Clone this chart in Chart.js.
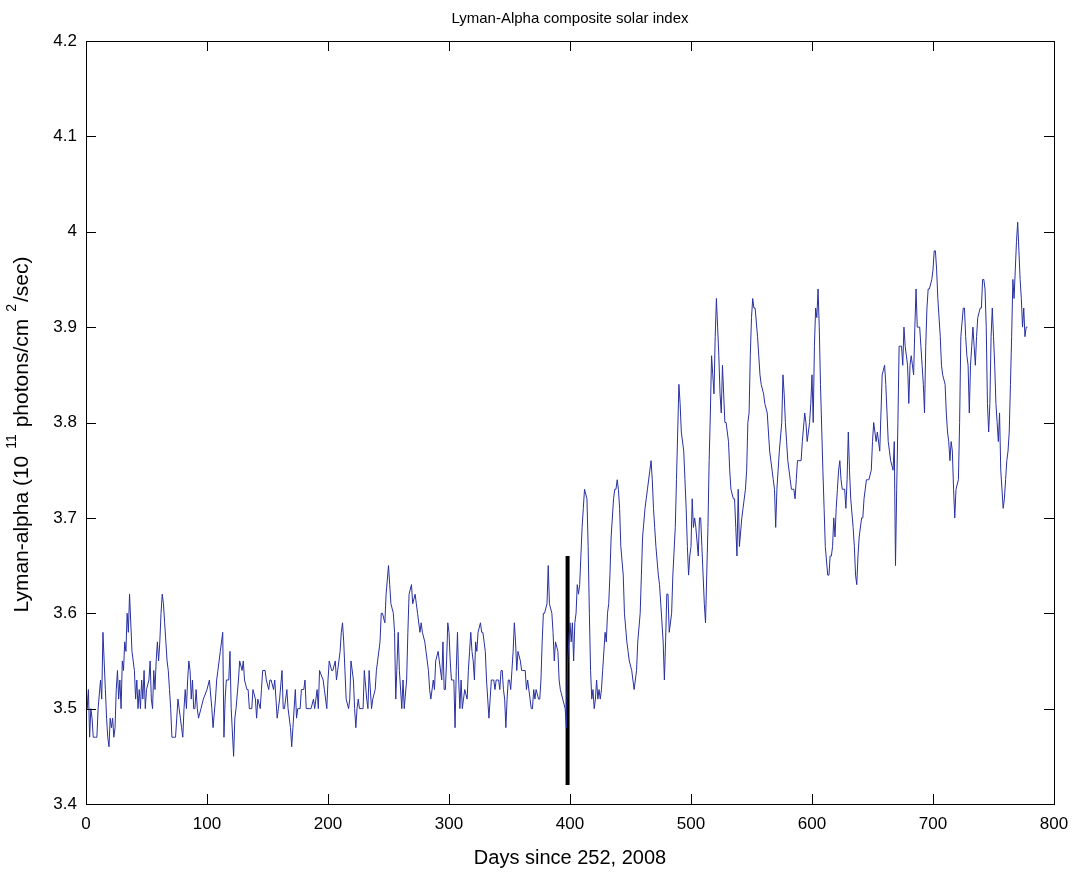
<!DOCTYPE html>
<html>
<head>
<meta charset="utf-8">
<title>Lyman-Alpha composite solar index</title>
<script src="https://cdn.jsdelivr.net/npm/chart.js@4.4.1/dist/chart.umd.min.js"></script>
<style>
  html, body { margin: 0; padding: 0; background: #fff; }
  canvas { display: block; }
</style>
</head>
<body>
<canvas id="myChart" width="1079" height="873"></canvas>
<script>
// values, one pair of arrays per stretch of about 100 days

const days000 = [0, 1, 2, 3, 4, 5, 6, 8, 9, 10,
  12, 13, 14, 15, 16, 17, 18, 19, 20, 21,
  22, 23, 24, 25, 26, 27, 28, 29, 30, 31,
  32, 33, 34, 35, 36, 37, 38, 39, 40, 41,
  42, 43, 44, 45, 46, 47, 48, 49, 50, 52,
  53, 54, 55, 56, 57, 58, 59, 60, 61, 62,
  63, 64, 65, 66, 67, 68, 69, 70, 71, 72,
  73, 74, 75, 76, 77, 78, 79, 80, 81, 82,
  83, 84, 85, 86, 87, 88, 89, 90, 91, 92,
  93];
const lyman000 = [3.53, 3.50, 3.52, 3.47, 3.50, 3.49, 3.47, 3.47, 3.47, 3.50,
  3.53, 3.51, 3.58, 3.55, 3.52, 3.49, 3.47, 3.46, 3.49, 3.48,
  3.49, 3.47, 3.48, 3.52, 3.54, 3.51, 3.53, 3.50, 3.55, 3.54,
  3.57, 3.56, 3.60, 3.58, 3.62, 3.59, 3.56, 3.55, 3.54, 3.51,
  3.53, 3.50, 3.52, 3.50, 3.53, 3.51, 3.54, 3.50, 3.52, 3.53,
  3.55, 3.51, 3.50, 3.54, 3.52, 3.55, 3.57, 3.55, 3.57, 3.60,
  3.62, 3.61, 3.59, 3.57, 3.55, 3.54, 3.52, 3.50, 3.47, 3.47,
  3.47, 3.47, 3.49, 3.51, 3.50, 3.49, 3.48, 3.47, 3.50, 3.52,
  3.50, 3.53, 3.55, 3.54, 3.51, 3.53, 3.50, 3.50, 3.52, 3.50,
  3.49];

const days100 = [95, 97, 100, 102, 104, 105, 107, 108, 109, 111,
  113, 114, 115, 116, 118, 119, 120, 122, 123, 124,
  126, 127, 129, 130, 131, 133, 134, 135, 137, 138,
  140, 141, 142, 144, 145, 146, 148, 149, 151, 152,
  153, 155, 156, 158, 159, 160, 162, 163, 164, 166,
  167, 169, 170, 171, 173, 174, 175, 177, 178, 180,
  181, 182, 185, 186, 188, 189, 191, 192, 193, 196,
  197];
const lyman100 = [3.50, 3.51, 3.52, 3.53, 3.50, 3.48, 3.51, 3.53, 3.54, 3.56,
  3.58, 3.47, 3.51, 3.53, 3.53, 3.56, 3.50, 3.45, 3.49, 3.50,
  3.53, 3.55, 3.54, 3.55, 3.53, 3.52, 3.52, 3.50, 3.50, 3.52,
  3.51, 3.49, 3.51, 3.50, 3.52, 3.54, 3.54, 3.53, 3.52, 3.53,
  3.53, 3.52, 3.53, 3.49, 3.50, 3.51, 3.54, 3.50, 3.50, 3.52,
  3.50, 3.48, 3.46, 3.48, 3.52, 3.49, 3.50, 3.50, 3.52, 3.52,
  3.53, 3.50, 3.50, 3.50, 3.51, 3.50, 3.52, 3.50, 3.54, 3.53,
  3.52];

const days200 = [199, 200, 201, 203, 204, 206, 207, 208, 210, 211,
  212, 213, 214, 215, 217, 218, 219, 221, 222, 223,
  224, 225, 226, 228, 229, 230, 232, 233, 234, 236,
  237, 239, 240, 241, 243, 244, 245, 247, 248, 250,
  251, 252, 254, 255, 256, 258, 259, 261, 262, 263,
  265, 266, 267, 269, 270, 272, 273, 274, 276, 277,
  278, 280, 281, 283, 284, 285, 287, 288, 289, 291,
  292, 294, 295];
const lyman200 = [3.50, 3.53, 3.55, 3.54, 3.54, 3.55, 3.53, 3.54, 3.56, 3.58,
  3.59, 3.57, 3.54, 3.51, 3.50, 3.51, 3.55, 3.53, 3.50, 3.48,
  3.50, 3.51, 3.50, 3.50, 3.50, 3.54, 3.51, 3.50, 3.54, 3.50,
  3.51, 3.52, 3.54, 3.55, 3.57, 3.60, 3.60, 3.59, 3.62, 3.65,
  3.63, 3.61, 3.60, 3.58, 3.51, 3.58, 3.54, 3.50, 3.53, 3.50,
  3.53, 3.58, 3.62, 3.63, 3.61, 3.62, 3.61, 3.60, 3.58, 3.59,
  3.58, 3.57, 3.56, 3.54, 3.52, 3.51, 3.53, 3.52, 3.55, 3.56,
  3.55, 3.53, 3.57];

const days300 = [296, 297, 298, 299, 300, 301, 302, 304, 305, 306,
  307, 308, 309, 310, 311, 312, 313, 315, 316, 317,
  318, 319, 320, 321, 322, 323, 324, 326, 327, 328,
  330, 331, 332, 333, 334, 335, 337, 338, 339, 341,
  342, 343, 344, 345, 346, 347, 348, 349, 350, 351,
  352, 353, 354, 355, 356, 357, 359, 360, 361, 363,
  364, 365, 367, 368, 369, 370, 371, 372, 374, 375,
  376, 377, 378, 379, 381, 382, 383, 385, 386, 387,
  388, 390, 391];
const lyman300 = [3.52, 3.52, 3.55, 3.59, 3.58, 3.55, 3.53, 3.53, 3.48, 3.54,
  3.58, 3.53, 3.50, 3.53, 3.50, 3.51, 3.52, 3.51, 3.54, 3.56,
  3.58, 3.56, 3.55, 3.53, 3.57, 3.56, 3.58, 3.59, 3.58, 3.58,
  3.56, 3.53, 3.51, 3.49, 3.51, 3.53, 3.53, 3.52, 3.53, 3.53,
  3.52, 3.54, 3.54, 3.52, 3.51, 3.48, 3.51, 3.53, 3.53, 3.52,
  3.54, 3.56, 3.59, 3.57, 3.54, 3.56, 3.55, 3.54, 3.54, 3.54,
  3.52, 3.53, 3.51, 3.50, 3.50, 3.52, 3.51, 3.52, 3.51, 3.51,
  3.53, 3.57, 3.60, 3.60, 3.61, 3.65, 3.61, 3.60, 3.58, 3.55,
  3.57, 3.56, 3.53];

const days400 = [392, 394, 396, 397, 398, 400, 401, 402, 403, 404,
  405, 406, 407, 408, 409, 410, 411, 412, 414, 415,
  416, 417, 418, 419, 420, 421, 422, 423, 424, 425,
  426, 427, 429, 430, 431, 432, 433, 434, 436, 437,
  438, 439, 440, 441, 442, 444, 445, 447, 448, 449,
  451, 452, 453, 455, 456, 458, 459, 460, 462, 463,
  464, 466, 467, 468, 469, 470, 471, 473, 474, 475,
  477, 478, 479, 480, 481, 482, 484, 485, 487, 488,
  489];
const lyman400 = [3.52, 3.51, 3.50, 3.48, 3.55, 3.59, 3.57, 3.59, 3.55, 3.59,
  3.60, 3.63, 3.62, 3.63, 3.66, 3.69, 3.71, 3.73, 3.72, 3.67,
  3.60, 3.54, 3.51, 3.52, 3.50, 3.51, 3.53, 3.51, 3.52, 3.51,
  3.52, 3.54, 3.58, 3.57, 3.60, 3.61, 3.64, 3.68, 3.72, 3.73,
  3.73, 3.74, 3.73, 3.71, 3.67, 3.64, 3.60, 3.57, 3.56, 3.55,
  3.54, 3.53, 3.52, 3.54, 3.57, 3.60, 3.64, 3.68, 3.71, 3.72,
  3.73, 3.75, 3.76, 3.74, 3.71, 3.69, 3.67, 3.64, 3.63, 3.61,
  3.57, 3.53, 3.57, 3.62, 3.62, 3.58, 3.60, 3.64, 3.69, 3.74,
  3.79];

const days500 = [490, 491, 492, 494, 495, 496, 497, 498, 499, 500,
  501, 502, 503, 504, 506, 507, 508, 509, 510, 511,
  512, 513, 514, 515, 516, 517, 518, 519, 520, 521,
  522, 523, 524, 525, 526, 527, 528, 529, 531, 532,
  533, 535, 536, 537, 538, 539, 540, 542, 543, 545,
  546, 547, 548, 549, 550, 551, 552, 553, 555, 556,
  557, 558, 560, 561, 563, 564, 565, 567, 568, 569,
  570, 571, 572, 573, 575, 576, 577, 578, 579, 580,
  582, 583, 585, 586];
const lyman500 = [3.84, 3.82, 3.79, 3.77, 3.74, 3.71, 3.67, 3.64, 3.66, 3.67,
  3.72, 3.69, 3.70, 3.69, 3.66, 3.70, 3.70, 3.67, 3.64, 3.61,
  3.59, 3.64, 3.69, 3.76, 3.81, 3.87, 3.85, 3.83, 3.89, 3.93,
  3.90, 3.87, 3.83, 3.81, 3.86, 3.83, 3.80, 3.80, 3.78, 3.75,
  3.73, 3.72, 3.72, 3.69, 3.66, 3.73, 3.67, 3.70, 3.71, 3.73,
  3.75, 3.80, 3.81, 3.87, 3.91, 3.93, 3.92, 3.92, 3.89, 3.87,
  3.85, 3.84, 3.83, 3.82, 3.81, 3.79, 3.77, 3.75, 3.74, 3.73,
  3.69, 3.73, 3.75, 3.77, 3.80, 3.85, 3.83, 3.80, 3.78, 3.76,
  3.74, 3.73, 3.73, 3.72];

const days600 = [587, 588, 590, 591, 592, 594, 595, 596, 598, 599,
  600, 601, 602, 603, 604, 605, 606, 607, 609, 610,
  611, 613, 614, 615, 616, 617, 618, 619, 620, 621,
  622, 623, 624, 625, 627, 628, 629, 630, 631, 632,
  634, 635, 636, 637, 638, 639, 641, 642, 643, 645,
  646, 647, 649, 650, 651, 652, 653, 654, 656, 657,
  658, 660, 661, 662, 663, 664, 665, 667, 668, 669,
  670, 671, 672, 674, 675, 676];
const lyman600 = [3.74, 3.76, 3.76, 3.76, 3.78, 3.81, 3.80, 3.78, 3.80, 3.82,
  3.85, 3.80, 3.88, 3.92, 3.91, 3.94, 3.90, 3.84, 3.75, 3.71,
  3.67, 3.64, 3.64, 3.66, 3.66, 3.67, 3.70, 3.68, 3.71, 3.73,
  3.75, 3.76, 3.74, 3.73, 3.73, 3.71, 3.74, 3.79, 3.75, 3.72,
  3.69, 3.67, 3.64, 3.63, 3.66, 3.68, 3.70, 3.70, 3.72, 3.74,
  3.74, 3.74, 3.75, 3.78, 3.80, 3.79, 3.78, 3.79, 3.77, 3.81,
  3.85, 3.86, 3.84, 3.81, 3.78, 3.77, 3.76, 3.75, 3.78, 3.65,
  3.73, 3.80, 3.88, 3.88, 3.86, 3.90];

const days700 = [677, 679, 680, 681, 682, 684, 685, 686, 687, 689,
  690, 691, 692, 693, 694, 695, 696, 697, 699, 700,
  701, 702, 703, 704, 706, 707, 708, 710, 711, 712,
  713, 714, 715, 716, 717, 718, 719, 721, 722, 723,
  725, 726, 727, 728, 729, 730, 731, 732, 733, 734,
  735, 736, 737, 739, 740, 741, 742, 743, 744, 745,
  746, 747, 748, 749, 750, 751, 752, 753, 754, 755,
  756, 757, 758, 759, 760, 761, 762, 763, 764, 765,
  766, 767, 768, 769, 770, 771, 772, 773, 774, 775,
  776, 777, 778];
const lyman700 = [3.88, 3.86, 3.82, 3.86, 3.87, 3.85, 3.90, 3.94, 3.90, 3.90,
  3.88, 3.86, 3.84, 3.81, 3.88, 3.92, 3.94, 3.94, 3.95, 3.96,
  3.98, 3.98, 3.96, 3.93, 3.89, 3.86, 3.85, 3.84, 3.81, 3.79,
  3.78, 3.76, 3.78, 3.77, 3.73, 3.70, 3.73, 3.74, 3.80, 3.89,
  3.92, 3.92, 3.89, 3.87, 3.86, 3.81, 3.86, 3.88, 3.90, 3.88,
  3.86, 3.89, 3.91, 3.92, 3.92, 3.95, 3.95, 3.94, 3.90, 3.82,
  3.79, 3.82, 3.89, 3.92, 3.89, 3.86, 3.82, 3.80, 3.78, 3.81,
  3.75, 3.73, 3.71, 3.72, 3.74, 3.76, 3.77, 3.79, 3.84, 3.89,
  3.95, 3.93, 3.96, 3.99, 4.01, 3.98, 3.95, 3.93, 3.90, 3.92,
  3.89, 3.90, 3.90];

// black vertical marker
const markerDay = 398;
const markerRange = [3.42, 3.66];

// axes
const xTicks = [0, 100, 200, 300, 400, 500, 600, 700, 800];
const yTicks = [3.4, 3.5, 3.6, 3.7, 3.8, 3.9, 4.0, 4.1, 4.2];

const days = [].concat(days000, days100, days200, days300, days400, days500, days600, days700);
const lymanAlpha = [].concat(lyman000, lyman100, lyman200, lyman300, lyman400, lyman500, lyman600, lyman700);
if (days.length !== lymanAlpha.length) {
  console.warn('length mismatch', days.length, lymanAlpha.length);
}

const FONT = '"Liberation Sans", Arial, Helvetica, sans-serif';
const TICK_LEN = 10;

// box, inward ticks on all four sides, title and axis labels
const matlabAxes = {
  id: 'matlabAxes',
  afterDraw(chart) {
    const ctx = chart.ctx;
    const a = chart.chartArea;
    const xs = chart.scales.x;
    const ys = chart.scales.y;
    ctx.save();
    ctx.strokeStyle = '#000';
    ctx.lineWidth = 1;
    ctx.strokeRect(Math.round(a.left) + 0.5, Math.round(a.top) + 0.5,
      Math.round(a.right - a.left), Math.round(a.bottom - a.top));
    ctx.beginPath();
    xTicks.forEach(v => {
      const px = Math.round(xs.getPixelForValue(v)) + 0.5;
      ctx.moveTo(px, a.bottom);
      ctx.lineTo(px, a.bottom - TICK_LEN);
      ctx.moveTo(px, a.top);
      ctx.lineTo(px, a.top + TICK_LEN);
    });
    yTicks.forEach(v => {
      const py = Math.round(ys.getPixelForValue(v)) + 0.5;
      ctx.moveTo(a.left, py);
      ctx.lineTo(a.left + TICK_LEN, py);
      ctx.moveTo(a.right, py);
      ctx.lineTo(a.right - TICK_LEN, py);
    });
    ctx.stroke();

    const midX = (a.left + a.right) / 2;
    const midY = (a.top + a.bottom) / 2;
    ctx.fillStyle = '#000';
    ctx.textAlign = 'center';
    ctx.textBaseline = 'middle';
    ctx.font = '15px ' + FONT;
    ctx.fillText('Lyman-Alpha composite solar index', midX, 19);
    ctx.font = '20px ' + FONT;
    ctx.fillText('Days since 252, 2008', midX, 858);

    // y label with superscripts, rotated
    const base = '21px ' + FONT;
    const sup = '14px ' + FONT;
    const parts = [
      { t: 'Lyman-alpha (10', f: base, dy: 0, gap: 0 },
      { t: '11', f: sup, dy: -10, gap: 7 },
      { t: ' photons/cm', f: base, dy: 0, gap: 1 },
      { t: '2', f: sup, dy: -10, gap: 7 },
      { t: '/sec)', f: base, dy: 0, gap: 2 }
    ];
    let total = 0;
    parts.forEach(p => { ctx.font = p.f; p.w = ctx.measureText(p.t).width; total += p.gap + p.w; });
    ctx.translate(22, midY + 12);
    ctx.rotate(-Math.PI / 2);
    ctx.textAlign = 'left';
    let cx = -total / 2;
    parts.forEach(p => {
      cx += p.gap;
      ctx.font = p.f;
      ctx.fillText(p.t, cx, p.dy);
      cx += p.w;
    });
    ctx.restore();
  }
};

const ctx = document.getElementById('myChart').getContext('2d');
const myChart = new Chart(ctx, {
  type: 'line',
  data: {
    labels: days,
    datasets: [
      {
        label: 'Lyman-alpha',
        data: lymanAlpha,
        borderColor: 'rgb(40, 48, 160)',
        borderWidth: 1,
        pointRadius: 0,
        tension: 0
      },
      {
        label: 'marker',
        data: [{ x: markerDay, y: markerRange[0] }, { x: markerDay, y: markerRange[1] }],
        borderColor: '#000',
        borderWidth: 4,
        pointRadius: 0
      }
    ]
  },
  options: {
    responsive: false,
    animation: false,
    devicePixelRatio: 1,
    layout: { padding: { top: 41, right: 25, left: 0, bottom: 0 } },
    plugins: {
      legend: { display: false },
      tooltip: { enabled: false },
      title: { display: false }
    },
    scales: {
      x: {
        type: 'linear',
        min: 0,
        max: 800,
        grid: { display: false, drawTicks: false },
        border: { display: false },
        ticks: {
          stepSize: 100,
          padding: 10,
          maxRotation: 0,
          color: '#000',
          font: { family: FONT, size: 17 }
        },
        afterFit(scale) { scale.height = 69; }
      },
      y: {
        type: 'linear',
        min: 3.4,
        max: 4.2,
        grid: { display: false, drawTicks: false },
        border: { display: false },
        ticks: {
          stepSize: 0.1,
          padding: 9,
          color: '#000',
          font: { family: FONT, size: 17 },
          callback: v => String(parseFloat(v.toFixed(1)))
        },
        afterFit(scale) { scale.width = 86; }
      }
    }
  },
  plugins: [matlabAxes]
});
</script>
</body>
</html>
